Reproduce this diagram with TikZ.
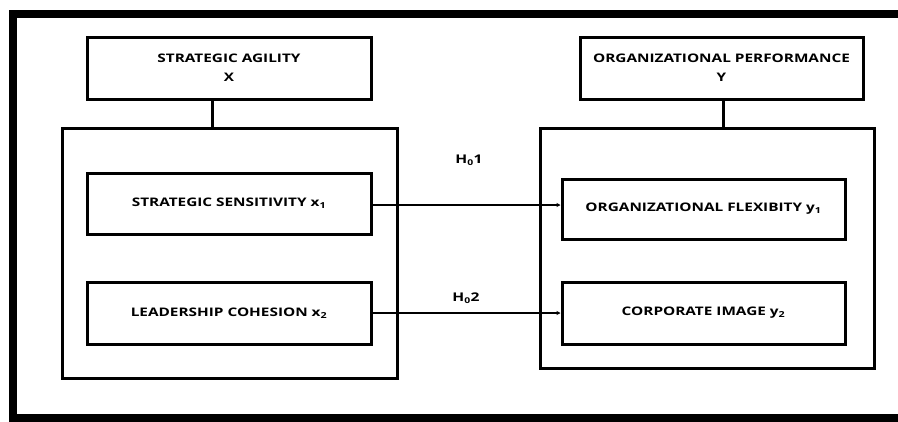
\documentclass[tikz,border=0pt]{standalone}
\usepackage{fontspec}
\setmainfont{Open Sans}[FakeStretch=1.3]
\usetikzlibrary{arrows.meta}
\begin{document}
\begin{tikzpicture}[x=1pt,y=-1pt,
  box/.style={draw,line width=3pt,rectangle,inner sep=0pt,align=center,font=\fontsize{11.8}{19}\selectfont\bfseries},
  frame/.style={line width=8pt},
  link/.style={line width=3pt},
  arr/.style={line width=1.5pt,-{Stealth[length=4pt,width=4pt]}},
  lab/.style={font=\fontsize{12}{14}\selectfont\bfseries,inner sep=0pt}]
\useasboundingbox (0,0) rectangle (898,421);
\draw[frame] (898,14) -- (13,14) -- (13,418) -- (898,418);
\node[box,minimum width=284pt,minimum height=62pt] (A) at (229,68) {STRATEGIC AGILITY\\X};
\node[box,minimum width=283pt,minimum height=62pt] (B) at (721.5,68) {ORGANIZATIONAL PERFORMANCE\\Y};
\node[box,minimum width=335pt,minimum height=250pt] (L) at (229.5,253) {};
\node[box,minimum width=334pt,minimum height=240pt] (R) at (707,248) {};
\node[box,minimum width=284pt,minimum height=61pt] (SS) at (229,203.5) {STRATEGIC SENSITIVITY x\textsubscript{1}};
\node[box,minimum width=284pt,minimum height=62pt] (LC) at (229,313) {LEADERSHIP COHESION x\textsubscript{2}};
\node[box,minimum width=283pt,minimum height=60pt] (OF) at (703.5,209) {ORGANIZATIONAL FLEXIBITY y\textsubscript{1}};
\node[box,minimum width=283pt,minimum height=62pt] (CI) at (703.5,313) {CORPORATE IMAGE y\textsubscript{2}};
\draw[link] ([xshift=-17pt]A.south) -- ([xshift=-17pt]A.south |- L.north);
\draw[link] ([xshift=1.5pt]B.south) -- ([xshift=1.5pt]B.south |- R.north);
\coordinate (s1) at ([yshift=-1.5pt]SS.east);
\draw[arr] (s1) -- (s1 -| OF.west);
\draw[arr] (LC.east) -- (CI.west);
\node[lab] (H1) at (469,160) {H\textsubscript{0}1};
\node[lab] (H2) at (466,298) {H\textsubscript{0}2};
\end{tikzpicture}
\end{document}
